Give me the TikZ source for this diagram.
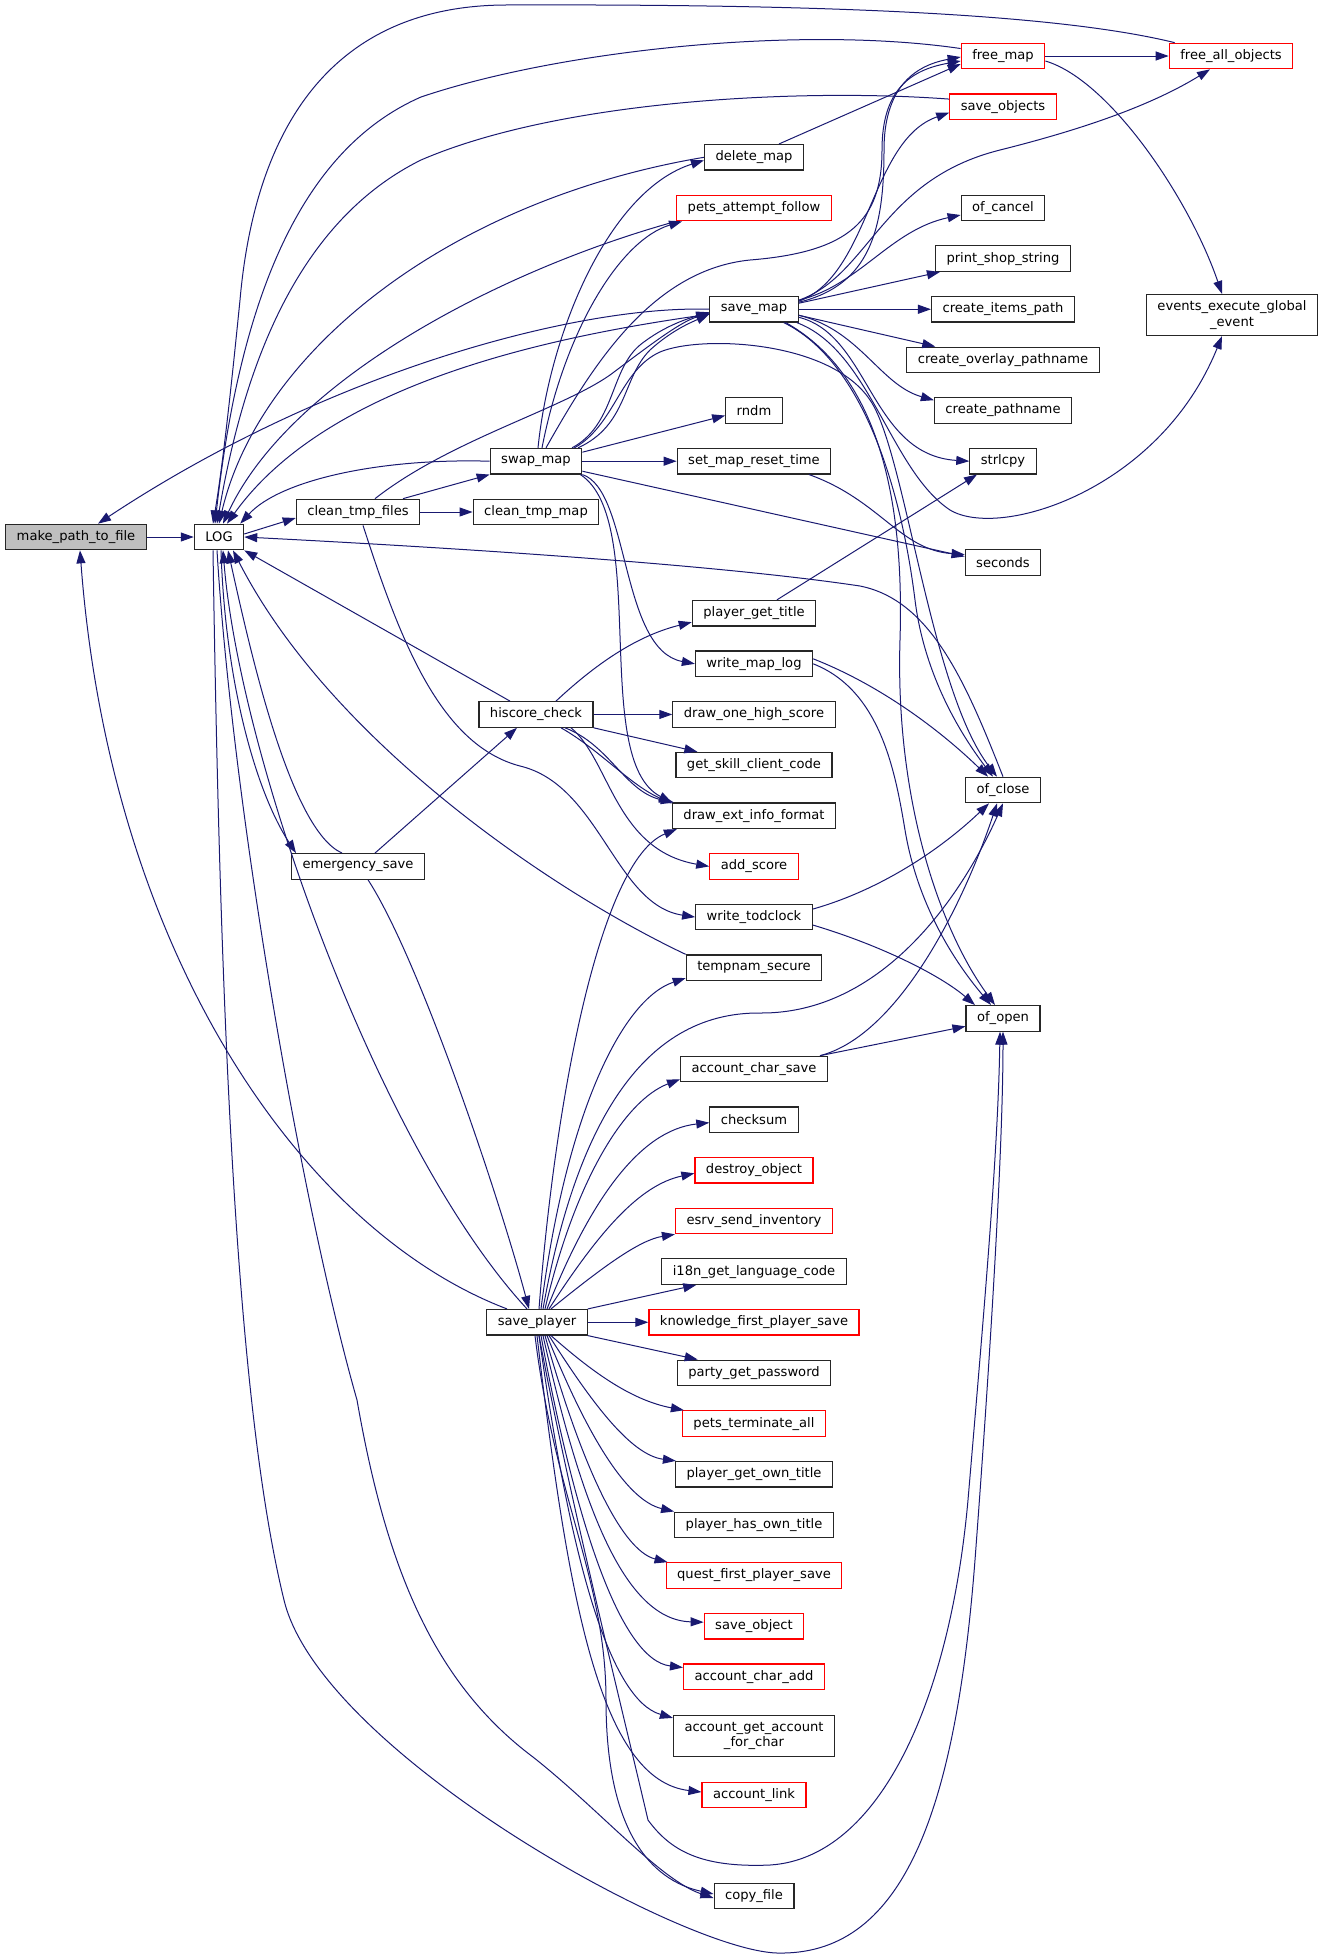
\documentclass[tikz,border=0pt]{standalone}
\usepackage{fontspec}
\newfontfamily\dejavu{DejaVu Sans}
\usepackage{tikz}
\usetikzlibrary{positioning,arrows.meta}
\definecolor{edgeblue}{rgb}{0.098,0.098,0.439}
\definecolor{boxline}{rgb}{0.15,0.15,0.15}

\tikzset{
  funcbox/.style={draw=boxline, fill=white, line width=1.2pt, inner xsep=11pt, inner ysep=3pt,
    minimum height=25.5pt, align=center, font=\dejavu\fontsize{13.1}{15.2}\selectfont},
  funcred/.style={funcbox, draw=red},
  funcfocus/.style={funcbox, fill=black!25},
  call/.style={draw=edgeblue, line width=1pt, -{Triangle[length=13pt,width=9pt]}},
}

\begin{document}
\begin{tikzpicture}[x=1pt, y=-1pt]
    \useasboundingbox (0,0) rectangle (1323,1960);
    % left part
    \node[funcfocus] (mptf) at (76,537) {make\_path\_to\_file};
    \node[funcbox] (log) at (219,537) {LOG};
    \node[funcbox] (ctf) at (358,512) {clean\_tmp\_files};
    \node[funcbox] (ctm) at (536,512) {clean\_tmp\_map};
    \node[funcbox] (swapmap) at (536,461.2) {swap\_map};
    \node[funcbox] (hiscore) at (536,714.45) {hiscore\_check};
    \node[funcbox] (emergency) at (358,866.4) {emergency\_save};
    \node[funcbox] (saveplayer) at (537,1322.25) {save\_player};
    % middle column
    \node[funcbox] (delmap) at (754,157.3) {delete\_map};
    \node[funcred] (pets) at (754,208) {pets\_attempt\_follow};
    \node[funcbox] (savemap) at (754,309.25) {save\_map};
    \node[funcbox] (rndm) at (754,410.55) {rndm};
    \node[funcbox] (smrt) at (754,461.2) {set\_map\_reset\_time};
    \node[funcbox] (pgt) at (754,613.15) {player\_get\_title};
    \node[funcbox] (wml) at (754,663.8) {write\_map\_log};
    \node[funcbox] (dohs) at (754,714.45) {draw\_one\_high\_score};
    \node[funcbox] (gscc) at (754,765.1) {get\_skill\_client\_code};
    \node[funcbox] (deif) at (754,815.75) {draw\_ext\_info\_format};
    \node[funcred] (addscore) at (754,866.4) {add\_score};
    \node[funcbox] (wtc) at (754,917.05) {write\_todclock};
    \node[funcbox] (tempnam) at (754,967.7) {tempnam\_secure};
    \node[funcbox] (acs) at (754,1069) {account\_char\_save};
    \node[funcbox] (checksum) at (754,1119.65) {checksum};
    \node[funcred] (destroy) at (754,1170.3) {destroy\_object};
    \node[funcred] (esrv) at (754,1220.95) {esrv\_send\_inventory};
    \node[funcbox] (i18n) at (754,1271.6) {i18n\_get\_language\_code};
    \node[funcred] (knowledge) at (754,1322.25) {knowledge\_first\_player\_save};
    \node[funcbox] (party) at (754,1372.9) {party\_get\_password};
    \node[funcred] (petsterm) at (754,1423.55) {pets\_terminate\_all};
    \node[funcbox] (pgot) at (754,1474.2) {player\_get\_own\_title};
    \node[funcbox] (phot) at (754,1524.85) {player\_has\_own\_title};
    \node[funcred] (quest) at (754,1575.5) {quest\_first\_player\_save};
    \node[funcred] (saveobject) at (754,1626.15) {save\_object};
    \node[funcred] (aca) at (754,1676.8) {account\_char\_add};
    \node[funcbox, minimum height=41pt] (agafc) at (754,1736) {account\_get\_account\\\_for\_char};
    \node[funcred] (alink) at (754,1795) {account\_link};
    \node[funcbox] (copyfile) at (754,1896) {copy\_file};
    % right column
    \node[funcred] (freemap) at (1003,56) {free\_map};
    \node[funcred] (saveobj) at (1003,106.65) {save\_objects};
    \node[funcbox] (ofcancel) at (1003,208) {of\_cancel};
    \node[funcbox] (printshop) at (1003,258.6) {print\_shop\_string};
    \node[funcbox] (cip) at (1003,309.25) {create\_items\_path};
    \node[funcbox] (cop) at (1003,359.9) {create\_overlay\_pathname};
    \node[funcbox] (cpn) at (1003,410.55) {create\_pathname};
    \node[funcbox] (strlcpy) at (1003,461.2) {strlcpy};
    \node[funcbox] (seconds) at (1003,562.5) {seconds};
    \node[funcbox] (ofclose) at (1003,790) {of\_close};
    \node[funcbox] (ofopen) at (1003,1018.35) {of\_open};
    \node[funcred] (freeall) at (1231,56) {free\_all\_objects};
    \node[funcbox, minimum height=41pt] (events) at (1232,315) {events\_execute\_global\\\_event};

    % make_path_to_file
    \draw[call] (mptf) -- (log);
    \draw[call] (savemap.west) .. controls (580,305) and (330,370) .. ([xshift=22pt]mptf.north);
    \draw[call] ([xshift=-30pt]saveplayer.north) .. controls (300,1230) and (110,950) .. ([xshift=4pt]mptf.south);

    % callers of LOG, from above
    \draw[call] ([xshift=6pt]freeall.north west) .. controls (1050,12) and (800,4) .. (505,5)
        .. controls (330,6) and (255,130) .. (240,300) .. controls (230,400) and (222,470) .. ([xshift=-6pt]log.north);
    \draw[call] (freemap.170) .. controls (800,25) and (560,50) .. (421,97)
        .. controls (300,150) and (240,300) .. ([xshift=-4pt]log.north);
    \draw[call] (saveobj.172) .. controls (800,88) and (560,100) .. (421,160)
        .. controls (300,220) and (245,360) .. ([xshift=-2pt]log.north);
    \draw[call] (delmap.west) .. controls (450,200) and (260,350) .. (log.north);
    \draw[call] (pets.south west) .. controls (500,270) and (290,380) .. ([xshift=4pt]log.north);
    \draw[call] ([yshift=-5pt]savemap.west) .. controls (560,335) and (330,380) .. ([xshift=8pt]log.north);
    \draw[call] (swapmap.west) .. controls (380,458) and (280,480) .. ([xshift=-4pt]log.north east);
    % callers of LOG, from below and right
    \draw[call] ([xshift=-26pt]hiscore.north) -- (log.south east);
    \draw[call] (tempnam.north west) .. controls (550,890) and (330,740) .. ([xshift=14pt]log.south);
    \draw[call] ([xshift=-16pt]emergency.north) .. controls (290,830) and (250,650) .. ([xshift=9pt]log.south);
    \draw[call] ([xshift=-10pt]saveplayer.north) .. controls (380,1150) and (240,760) .. ([xshift=4pt]log.south);
    \draw[call] (ofclose.north) .. controls (965,680) and (930,600) .. (860,586)
        .. controls (700,562) and (400,545) .. (log.east);

    % LOG
    \draw[call] ([yshift=3pt]log.east) -- ([yshift=-6pt]ctf.west);
    \draw[call] ([xshift=2pt]log.south) .. controls (225,680) and (255,790) .. ([xshift=5pt]emergency.north west);
    \draw[call] ([xshift=-2pt]log.south) .. controls (232,800) and (300,1200) .. (357,1400)
        .. controls (385,1560) and (430,1680) .. (533,1757) .. controls (600,1810) and (660,1880) .. ([yshift=-2pt]copyfile.west);
    \draw[call] ([xshift=-6pt]log.south) .. controls (220,1000) and (235,1400) .. (284,1600)
        .. controls (320,1750) and (680,1950) .. (777,1953) .. controls (900,1956) and (955,1820) .. (975,1560)
        .. controls (990,1360) and (1003,1150) .. (ofopen.south);

    % clean_tmp_files
    \draw[call] (ctf) -- (ctm);
    \draw[call] ([xshift=45pt]ctf.north) -- (swapmap.south west);
    \draw[call] ([xshift=17pt]ctf.north) .. controls (450,440) and (560,410) .. (610,375)
        .. controls (650,345) and (680,322) .. ([yshift=-4pt]savemap.west);
    \draw[call] ([xshift=5pt]ctf.south) .. controls (400,640) and (440,745) .. (520,766)
        .. controls (600,785) and (615,905) .. (wtc.west);

    % swap_map
    \draw[call] ([xshift=36pt]swapmap.north) .. controls (615,425) and (610,370) .. (640,345)
        .. controls (665,325) and (690,318) .. ([yshift=-3pt]savemap.west);
    \draw[call] ([xshift=42pt]swapmap.north) .. controls (628,425) and (622,378) .. (650,350)
        .. controls (672,330) and (692,322) .. ([yshift=-5pt]savemap.west);
    \draw[call] ([xshift=2pt]swapmap.north) .. controls (550,330) and (610,190) .. ([yshift=-3pt]delmap.west);
    \draw[call] ([xshift=6pt]swapmap.north) .. controls (565,330) and (620,240) .. ([xshift=6pt]pets.south west);
    \draw[call] ([xshift=10pt]swapmap.north) .. controls (590,370) and (650,270) .. (750,260)
        .. controls (850,252) and (882,220) .. (882,150) .. controls (882,90) and (910,70) .. ([yshift=-5pt]freemap.west);
    \draw[call] ([yshift=9pt]swapmap.east) -- ([yshift=-5pt]rndm.west);
    \draw[call] (swapmap) -- (smrt);
    \draw[call] ([yshift=-10pt]swapmap.east) -- ([yshift=6pt]seconds.west);
    \draw[call] (swapmap.south east) .. controls (630,490) and (620,650) .. (wml.west);
    \draw[call] ([xshift=-2pt]swapmap.south east) .. controls (650,520) and (590,760) .. (deif.north west);
    \draw[call] ([xshift=-8pt]swapmap.north east) .. controls (615,425) and (620,370) .. (660,352)
        .. controls (700,335) and (830,340) .. (870,400) .. controls (905,450) and (930,690) .. ([xshift=-6pt]ofclose.north);

    % save_map
    \draw[call] ([yshift=7pt]savemap.east) .. controls (870,285) and (884,230) .. (884,150)
        .. controls (884,90) and (912,66) .. ([yshift=-1pt]freemap.west);
    \draw[call] ([yshift=8pt]savemap.east) .. controls (870,275) and (870,140) .. ([yshift=-6pt]saveobj.west);
    \draw[call] ([yshift=9pt]savemap.east) .. controls (870,275) and (880,180) .. (1000,150)
        .. controls (1100,125) and (1160,100) .. ([xshift=-21pt]freeall.south);
    \draw[call] ([yshift=9pt]savemap.east) .. controls (860,285) and (890,230) .. ([yshift=-7pt]ofcancel.west);
    \draw[call] ([yshift=6pt]savemap.east) -- ([xshift=5pt]printshop.south west);
    \draw[call] (savemap) -- (cip);
    \draw[call] ([yshift=-6pt]savemap.east) -- ([xshift=29pt]cop.north west);
    \draw[call] ([yshift=-6pt]savemap.east) .. controls (860,330) and (880,385) .. ([yshift=-3pt]cpn.north west);
    \draw[call] ([yshift=-8pt]savemap.east) .. controls (870,335) and (870,455) .. (strlcpy.west);
    \draw[call] ([xshift=-2pt]savemap.south east) .. controls (870,350) and (890,470) .. (950,510)
        .. controls (1000,540) and (1160,490) .. ([xshift=-10pt]events.south);
    \draw[call] ([xshift=-15pt]savemap.south east) .. controls (860,360) and (900,480) .. (915,600)
        .. controls (925,680) and (965,740) .. ([xshift=-10pt]ofclose.north);
    \draw[call] ([xshift=-13pt]savemap.south east) .. controls (870,370) and (905,480) .. (900,640)
        .. controls (895,800) and (940,930) .. ([xshift=-8pt]ofopen.north);

    % of_close and of_open
    \draw[call] ([yshift=5pt]wml.east) .. controls (880,685) and (940,730) .. ([xshift=-15pt]ofclose.north);
    \draw[call] (wml.east) .. controls (880,690) and (895,770) .. (905,830)
        .. controls (920,920) and (970,980) .. ([xshift=-12pt]ofopen.north);
    \draw[call] ([yshift=8pt]wtc.east) .. controls (880,890) and (940,850) .. ([xshift=-14pt]ofclose.south);
    \draw[call] ([yshift=-8pt]wtc.east) .. controls (880,945) and (940,975) .. ([xshift=-28pt]ofopen.north);
    \draw[call] ([xshift=-8pt]acs.north east) .. controls (900,1035) and (965,900) .. ([xshift=-6pt]ofclose.south);
    \draw[call] ([xshift=-8pt]acs.north east) -- ([yshift=-8pt]ofopen.west);

    % hiscore_check
    \draw[call] ([xshift=20pt]hiscore.north) .. controls (600,660) and (640,635) .. ([yshift=-9pt]pgt.west);
    \draw[call] (hiscore) -- (dohs);
    \draw[call] (hiscore.south east) -- ([xshift=22pt]gscc.north west);
    \draw[call] ([xshift=25pt]hiscore.south) .. controls (600,750) and (630,785) .. ([yshift=-1pt]deif.north west);
    \draw[call] ([xshift=29pt]hiscore.south) .. controls (610,745) and (625,792) .. ([xshift=2pt]deif.north west);
    \draw[call] ([xshift=35pt]hiscore.south) .. controls (610,760) and (615,850) .. (addscore.west);

    % emergency_save
    \draw[call] ([xshift=17pt]emergency.north) -- ([xshift=-19pt]hiscore.south);
    \draw[call] ([xshift=10pt]emergency.south) .. controls (420,960) and (500,1200) .. ([xshift=-8pt]saveplayer.north);

    % save_player
    \draw[call] ([xshift=2pt]saveplayer.north) .. controls (555,1100) and (600,860) .. ([xshift=5pt]deif.south west);
    \draw[call] ([xshift=4pt]saveplayer.north) .. controls (565,1120) and (620,1000) .. ([yshift=3pt]tempnam.south west);
    \draw[call] ([xshift=6pt]saveplayer.north) .. controls (575,1130) and (640,1012) .. (760,1013)
        .. controls (880,1014) and (960,900) .. (ofclose.south);
    \draw[call] ([xshift=8pt]saveplayer.north) .. controls (575,1180) and (625,1100) .. ([yshift=3pt]acs.south west);
    \draw[call] ([xshift=10pt]saveplayer.north) .. controls (590,1200) and (640,1130) .. ([yshift=-3pt]checksum.west);
    \draw[call] ([xshift=12pt]saveplayer.north) .. controls (600,1230) and (640,1185) .. ([yshift=-3pt]destroy.west);
    \draw[call] ([xshift=14pt]saveplayer.north) .. controls (605,1265) and (640,1240) .. (esrv.south west);
    \draw[call] (saveplayer.north east) -- ([xshift=35pt]i18n.south west);
    \draw[call] (saveplayer) -- (knowledge);
    \draw[call] (saveplayer.south east) -- ([xshift=21pt]party.north west);
    \draw[call] ([xshift=14pt]saveplayer.south) .. controls (590,1370) and (630,1400) .. ([xshift=2pt]petsterm.north west);
    \draw[call] ([xshift=12pt]saveplayer.south) .. controls (590,1400) and (630,1455) .. ([xshift=1pt]pgot.north west);
    \draw[call] ([xshift=10pt]saveplayer.south) .. controls (585,1430) and (625,1500) .. (phot.north west);
    \draw[call] ([xshift=8pt]saveplayer.south) .. controls (580,1460) and (620,1550) .. ([xshift=2pt]quest.north west);
    \draw[call] ([xshift=6pt]saveplayer.south) .. controls (578,1490) and (620,1620) .. ([yshift=4pt]saveobject.west);
    \draw[call] ([xshift=4pt]saveplayer.south) .. controls (575,1520) and (620,1660) .. ([yshift=-4pt]aca.north west);
    \draw[call] ([xshift=2pt]saveplayer.south) .. controls (570,1560) and (610,1700) .. ([yshift=-3pt]agafc.north west);
    \draw[call] (saveplayer.south) .. controls (568,1600) and (600,1780) .. ([yshift=3pt]alink.west);
    \draw[call] ([xshift=-2pt]saveplayer.south) .. controls (555,1500) and (606,1580) .. (606,1700)
        .. controls (606,1830) and (650,1880) .. ([yshift=2pt]copyfile.west);
    \draw[call] ([xshift=2pt]saveplayer.south) .. controls (570,1500) and (620,1700) .. (648,1820)
        .. controls (670,1850) and (700,1868) .. (770,1865) .. controls (880,1858) and (950,1700) .. (968,1500)
        .. controls (985,1300) and (998,1150) .. ([xshift=-3pt]ofopen.south);

    % the rest
    \draw[call] ([xshift=23pt]pgt.north) -- ([xshift=-26pt]strlcpy.south);
    \draw[call] ([xshift=55pt]smrt.south) .. controls (880,500) and (900,550) .. ([yshift=8pt]seconds.west);
    \draw[call] (freemap) -- (freeall);
    \draw[call] ([yshift=-5pt]freemap.east) .. controls (1110,80) and (1190,200) .. ([xshift=-10pt]events.north);
    \draw[call] ([xshift=25pt]delmap.north) -- ([yshift=-8pt]freemap.west);
\end{tikzpicture}
\end{document}
